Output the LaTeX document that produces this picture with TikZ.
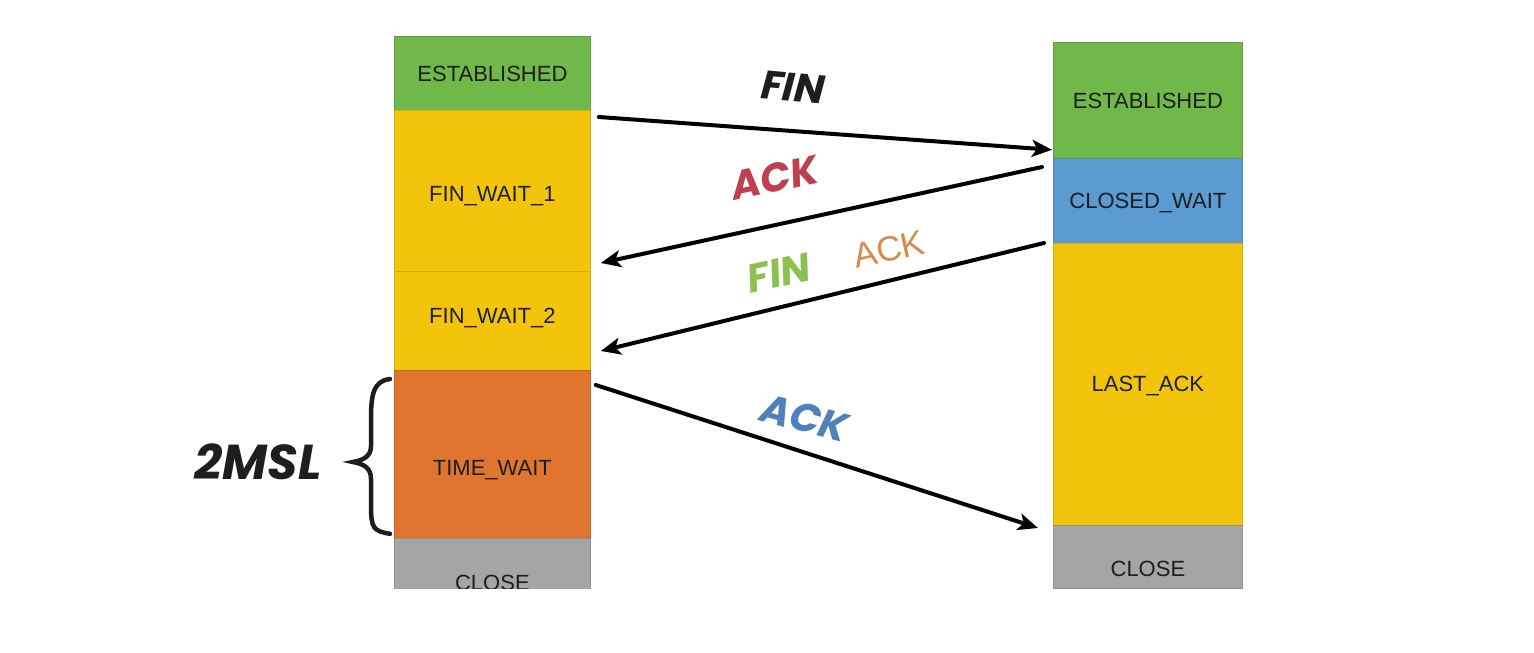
\documentclass[tikz,border=0pt]{standalone}
\usepackage{fontspec}
\setmainfont{Liberation Sans}
\newfontfamily\hand{Poppins}
\usetikzlibrary{arrows.meta,calc}
\definecolor{cgreen}{HTML}{70B84A}
\definecolor{cyellow}{HTML}{F2C40C}
\definecolor{cblue}{HTML}{5B9BD1}
\definecolor{corange}{HTML}{E07530}
\definecolor{cgray}{HTML}{A5A5A5}
\definecolor{ctext}{HTML}{1E1E1E}
\definecolor{lred}{HTML}{C0404F}
\definecolor{lgreen}{HTML}{8CC152}
\definecolor{lorange}{HTML}{D98A50}
\definecolor{lblue}{HTML}{4F81BD}
\newcommand\lowtxt[2]{\raisebox{-#1pt}[0pt][0pt]{#2}}
\tikzset{
  seg/.style 2 args={draw=#1!88!black, line width=0.8pt, fill=#1, anchor=north west,
    inner sep=0pt, minimum width=#2, text=ctext,
    font=\fontsize{22}{26}\selectfont},
  msg/.style={line width=4pt, -{Stealth[length=20pt,width=17pt,inset=5pt]}, line cap=round},
  lab/.style={font=\hand\bfseries\itshape\fontsize{40}{44}\selectfont, inner sep=0pt},
}
\begin{document}
\begin{tikzpicture}[x=1pt,y=-1pt]
\useasboundingbox[fill=white] (0,0) rectangle (1534,653);
% left column
\node[seg={cgreen}{196pt}, minimum height=74pt] (le) at (394,36) {\lowtxt{8}{ESTABLISHED}};
\node[seg={cyellow}{196pt}, minimum height=161pt] (fw1) at (394,110) {\lowtxt{10.5}{FIN\_WAIT\_1}};
\node[seg={cyellow}{196pt}, minimum height=99pt] (fw2) at (394,271) {\lowtxt{3}{FIN\_WAIT\_2}};
\node[seg={corange}{196pt}, minimum height=168pt] (tw) at (394,370) {\lowtxt{21}{TIME\_WAIT}};
\begin{scope}
\clip (393,538) rectangle (591,588);
\node[seg={cgray}{196pt}, minimum height=84pt] (lc) at (394,538) {\lowtxt{10}{CLOSE}};
\end{scope}
% right column
\node[seg={cgreen}{189pt}, minimum height=116pt] (re) at (1053,42) {\lowtxt{8}{ESTABLISHED}};
\node[seg={cblue}{189pt}, minimum height=85pt] (cw) at (1053,158) {\lowtxt{7.5}{CLOSED\_WAIT}};
\node[seg={cyellow}{189pt}, minimum height=282pt] (la) at (1053,243) {\lowtxt{7}{LAST\_ACK}};
\node[seg={cgray}{189pt}, minimum height=63pt] (rc) at (1053,525) {\lowtxt{19.5}{CLOSE}};
% arrows
\draw[msg] ($(fw1.north east)+(8,7)$) -- ($(re.south west)+(-1,-9)$);
\draw[msg] ($(cw.north west)+(-11,9)$) -- ($(fw2.north east)+(10,-8)$);
\draw[msg] ($(la.north west)+(-9,0)$) -- ($(tw.north east)+(10,-19)$);
\draw[msg] ($(tw.north east)+(5,15)$) -- ($(rc.north west)+(-15,3)$);
% labels
\node[lab, text=ctext, rotate=-5] (lfin) at (793,87) {FIN};
\node[lab, text=lred, rotate=12] (lack) at (775,178) {ACK};
\node[lab, text=lgreen, rotate=12] (lfin2) at (779,273) {FIN};
\node[text=lorange, rotate=12, inner sep=0pt, font=\fontsize{35}{40}\selectfont] (lack2) at (889,249) {ACK};
\node[lab, text=lblue, rotate=-15] (lack3) at (805,418) {ACK};
\node[lab, text=ctext, font=\hand\bfseries\itshape\fontsize{49}{52}\selectfont] (msl) at (258,462) {2MSL};
% brace
\draw[line width=4.5pt, line cap=round, ctext]
  ($(tw.north west)+(-4,9)$) .. controls (373,381) and (371,395) .. (371,420)
  -- (371,446) .. controls (371,456) and (364,460) .. (353,462)
  .. controls (364,464) and (371,468) .. (371,479)
  -- (371,505) .. controls (371,528) and (373,531) .. ($(tw.south west)+(-4,-5)$);
\end{tikzpicture}
\end{document}
